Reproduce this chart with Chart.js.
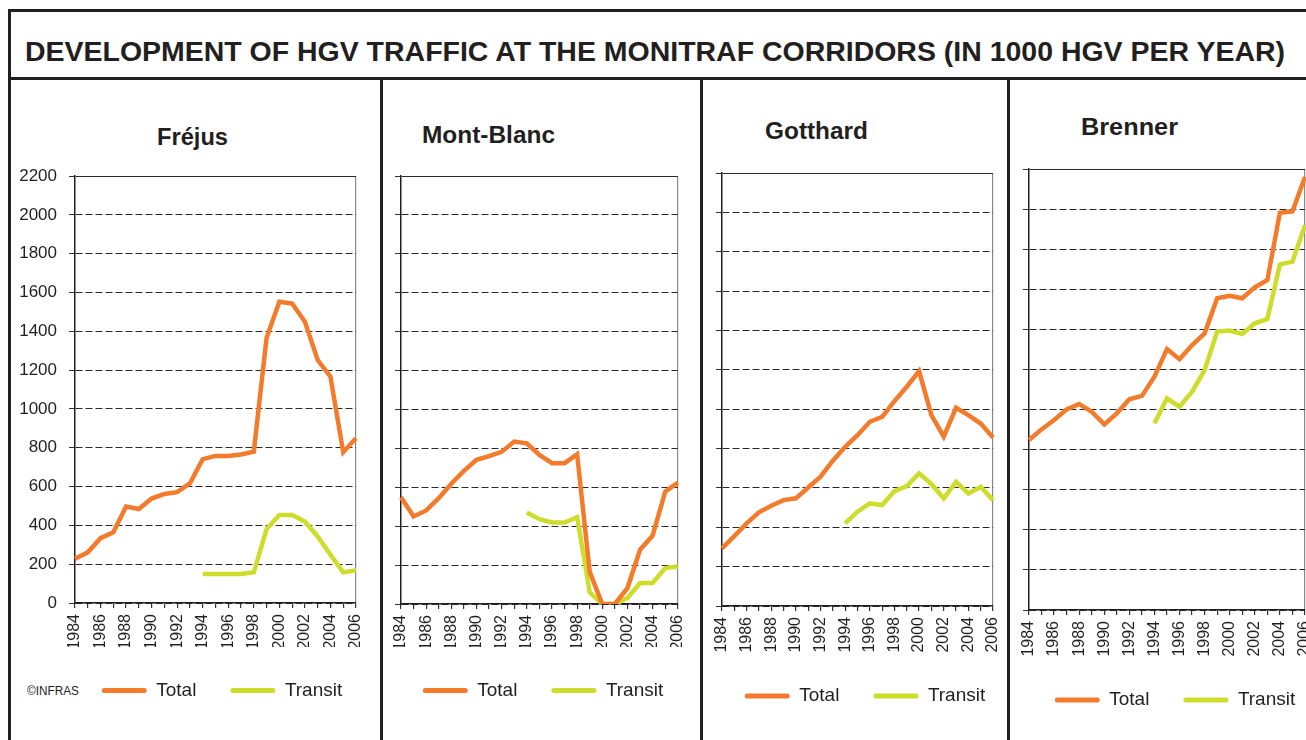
<!DOCTYPE html>
<html>
<head>
<meta charset="utf-8">
<script src="https://cdn.jsdelivr.net/npm/chart.js@4.4.1/dist/chart.umd.min.js"></script>
<style>
html, body { margin: 0; padding: 0; background: #fff; overflow: hidden; }
#page { position: relative; width: 1306px; height: 740px; overflow: hidden; font-family: 'Liberation Sans', Arial, sans-serif; color: #231f20; }
.rule { position: absolute; background: #231f20; z-index: 5; }
canvas { position: absolute; top: 78px; }
.txt { position: absolute; white-space: nowrap; line-height: 1; transform-origin: 0 0; }
#title { left: 25px; top: 39px; font-size: 27px; font-weight: bold; }
.ptitle { font-size: 23px; font-weight: bold; }
#infras { left: 27px; top: 685px; font-size: 12px; }
</style>
</head>
<body>
<div id="page">
  <div class="rule" style="left:8px;top:9px;width:1300px;height:3px"></div>
  <div class="rule" style="left:8px;top:9px;width:3px;height:731px"></div>
  <div class="rule" style="left:8px;top:77px;width:1300px;height:3px"></div>
  <div class="rule" style="left:380px;top:77px;width:3px;height:663px"></div>
  <div class="rule" style="left:700px;top:77px;width:3px;height:663px"></div>
  <div class="rule" style="left:1007px;top:77px;width:3px;height:663px"></div>

  <div id="title" class="txt" data-w="1260">DEVELOPMENT OF HGV TRAFFIC AT THE MONITRAF CORRIDORS (IN 1000 HGV PER YEAR)</div>
  <div class="txt ptitle" data-w="71" style="left:157px;top:126px">Fréjus</div>
  <div class="txt ptitle" data-w="133" style="left:422px;top:124px">Mont-Blanc</div>
  <div class="txt ptitle" data-w="103" style="left:765px;top:120px">Gotthard</div>
  <div class="txt ptitle" data-w="97" style="left:1081px;top:116px">Brenner</div>
  <div id="infras" class="txt" data-w="52">©INFRAS</div>

  <canvas id="c1"></canvas>
  <canvas id="c2"></canvas>
  <canvas id="c3"></canvas>
  <canvas id="c4"></canvas>
</div>
<script>
// years on the x axis
const years = ['1984','1985','1986','1987','1988','1989','1990','1991','1992','1993','1994',
  '1995','1996','1997','1998','1999','2000','2001','2002','2003','2004','2005','2006'];
const yMax = 2200;
const yStep = 200;
const seriesNames = ['Total', 'Transit'];

// 1000 HGV per year
const frejusTotal   = [228, 261, 334, 364, 497, 484, 538, 562, 571, 617, 741, 758, 758, 765, 780, 1367, 1552, 1543, 1449, 1252, 1166, 777, 849];
const frejusTransit = [null, null, null, null, null, null, null, null, null, null, 149, 149, 149, 149, 158, 381, 454, 454, 420, 343, 249, 158, 168];

const montBlancTotal   = [549, 450, 481, 544, 618, 684, 741, 760, 782, 835, 826, 766, 724, 724, 770, 165, 0, 0, 82, 279, 352, 578, 624];
const montBlancTransit = [null, null, null, null, null, null, null, null, null, null, 470, 436, 419, 419, 446, 60, 0, 0, 31, 108, 108, 185, 193];

const gotthardTotal   = [293, 355, 420, 476, 509, 538, 547, 602, 657, 738, 809, 868, 936, 961, 1041, 1114, 1193, 970, 860, 1007, 970, 927, 856];
const gotthardTransit = [null, null, null, null, null, null, null, null, null, null, 420, 479, 521, 513, 584, 609, 674, 619, 547, 631, 572, 606, 538];

const brennerTotal   = [848, 901, 948, 1001, 1028, 989, 926, 981, 1051, 1068, 1164, 1302, 1251, 1322, 1380, 1555, 1568, 1555, 1610, 1646, 1982, 1989, 2160];
const brennerTransit = [null, null, null, null, null, null, null, null, null, null, 931, 1056, 1014, 1089, 1197, 1389, 1394, 1377, 1430, 1452, 1724, 1738, 1920];

const ORANGE = '#F47B2C';
const LIME = '#CEDC2C';
const INK = '#231f20';

// legend metrics (chart.js: height = font + padding + 10, text centre = top + padding + font/2)
const LEG_FONT = 19;
const LEG_PAD = 34;

// stretch html texts to the widths measured on the reference
document.querySelectorAll('[data-w]').forEach(el => {
  const w = el.getBoundingClientRect().width;
  el.style.transform = 'scaleX(' + (+el.dataset.w / w) + ')';
});

function panel(id, g, total, transit, showY) {
  const cv = document.getElementById(id);
  cv.width = g.R - g.L;
  cv.height = 662;
  cv.style.left = g.L + 'px';
  const legTop = g.legendY - LEG_PAD - LEG_FONT / 2;
  const legH = LEG_FONT + LEG_PAD + 10;
  return new Chart(cv, {
    type: 'line',
    data: {
      labels: years,
      datasets: [
        { label: seriesNames[0], data: total, borderColor: ORANGE, backgroundColor: ORANGE, borderWidth: 4.5, pointRadius: 0, tension: 0 },
        { label: seriesNames[1], data: transit, borderColor: LIME, backgroundColor: LIME, borderWidth: 4.5, pointRadius: 0, tension: 0 }
      ]
    },
    options: {
      responsive: false,
      animation: false,
      devicePixelRatio: 1,
      layout: { padding: { top: g.top - 78, left: 0, right: 0, bottom: 740 - (legTop + legH) } },
      plugins: {
        tooltip: { enabled: false },
        legend: {
          position: 'bottom',
          labels: {
            boxWidth: 45, boxHeight: 5, padding: LEG_PAD, color: INK,
            useBorderRadius: true, borderRadius: 2.5,
            font: { family: "'Liberation Sans', Arial, sans-serif", size: LEG_FONT },
            generateLabels: ch => Chart.defaults.plugins.legend.labels.generateLabels(ch).map(it => Object.assign(it, { lineWidth: 0 }))
          }
        }
      },
      scales: {
        x: {
          grid: {
            drawOnChartArea: true,
            color: c => c.index === years.length - 1 ? '#8a8a8a' : 'rgba(0,0,0,0)',
            tickColor: '#333', tickLength: 5, lineWidth: 1.2
          },
          border: { color: INK, width: 1.5 },
          ticks: {
            autoSkip: false, minRotation: 90, maxRotation: 90, padding: 6, color: INK,
            font: { family: "'Liberation Sans', Arial, sans-serif", size: 16 },
            callback: function (v, i) { return i % 2 === 0 ? this.getLabelForValue(v) : ''; }
          },
          afterFit: s => { s.height = legTop - g.bottom; }
        },
        y: {
          min: 0, max: yMax,
          grid: { color: '#2a2a2a', tickColor: '#333', tickLength: 6, lineWidth: 1 },
          border: { color: INK, width: 1.5, dash: c => (c.tick && c.tick.value === yMax) ? [] : [7, 3] },
          ticks: {
            stepSize: yStep, display: showY, padding: 12, color: INK,
            font: { family: "'Liberation Sans', Arial, sans-serif", size: 17 },
            callback: v => String(v)
          },
          afterFit: s => { s.width = g.plotLeft - g.L; }
        },
        yR: {
          position: 'right', display: true,
          grid: { display: false }, border: { display: false }, ticks: { display: false },
          afterFit: s => { s.width = g.R - g.plotRight; }
        }
      }
    }
  });
}

panel('c1', { L: 11, R: 433, plotLeft: 75, plotRight: 356, top: 176, bottom: 603, legendY: 690.5 }, frejusTotal, frejusTransit, true);
panel('c2', { L: 383, R: 703, plotLeft: 401, plotRight: 682, top: 176, bottom: 604, legendY: 690.5 }, montBlancTotal, montBlancTransit, false);
panel('c3', { L: 703, R: 1027, plotLeft: 722, plotRight: 993, top: 173, bottom: 606, legendY: 696 }, gotthardTotal, gotthardTransit, false);
panel('c4', { L: 1010, R: 1340, plotLeft: 1029, plotRight: 1305, top: 169, bottom: 610, legendY: 700 }, brennerTotal, brennerTransit, false);
</script>
</body>
</html>
